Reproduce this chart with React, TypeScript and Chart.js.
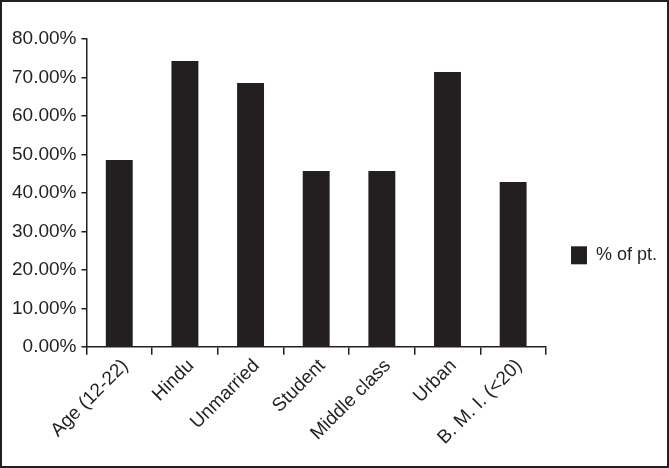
import React, { useEffect, useRef } from "react";
import { Chart, registerables } from "chart.js";

Chart.register(...registerables);

const categories = ["Age (12-22)", "Hindu", "Unmarried", "Student", "Middle class", "Urban", "B. M. I. (<20)"];
const seriesName = "% of pt.";
const values = [48.57, 74.29, 68.57, 45.71, 45.71, 71.43, 42.86];
const yTicks = [0, 10, 20, 30, 40, 50, 60, 70, 80];

const INK = "#231f20";
const FONT = "'Liberation Sans', Arial, sans-serif";

export default function App() {
  const ref = useRef<HTMLCanvasElement | null>(null);
  useEffect(() => {
    document.body.style.margin = "0";
    if (!ref.current) return;
    const chart = new Chart(ref.current, {
      type: "bar",
      data: {
        labels: categories,
        datasets: [
          {
            label: seriesName,
            data: values,
            backgroundColor: INK,
            borderWidth: 0,
            barPercentage: 0.41,
            categoryPercentage: 1,
          },
        ],
      },
      options: {
        animation: false,
        responsive: false,
        maintainAspectRatio: false,
        layout: { padding: { left: 5, top: 37, right: 0, bottom: 17 } },
        plugins: {
          tooltip: { enabled: false },
          legend: {
            position: "right",
            align: "center",
            title: { display: true, text: "", padding: { top: 1, bottom: 0 }, font: { size: 18, family: FONT } },
            labels: {
              boxWidth: 16,
              boxHeight: 18,
              padding: 25,
              color: INK,
              font: { size: 18, family: FONT },
            },
          },
        },
        scales: {
          x: {
            grid: {
              display: true,
              drawOnChartArea: false,
              drawTicks: true,
              tickLength: 8,
              color: INK,
              lineWidth: 1.5,
            },
            border: { display: true, color: INK, width: 1.5 },
            ticks: {
              color: INK,
              font: { size: 19, family: FONT },
              minRotation: 45,
              maxRotation: 45,
              autoSkip: false,
              padding: 0,
              labelOffset: 6,
            },
          },
          y: {
            min: 0,
            max: 80,
            afterBuildTicks: (axis: any) => {
              axis.ticks = yTicks.map((v) => ({ value: v }));
            },
            grid: {
              display: true,
              drawOnChartArea: false,
              drawTicks: true,
              tickLength: 5,
              color: INK,
              lineWidth: 1.5,
            },
            border: { display: true, color: INK, width: 1.5 },
            ticks: {
              color: INK,
              font: { size: 19, family: FONT },
              padding: 5,
              callback: (v: any) => Number(v).toFixed(2) + "%",
            },
          },
        },
      },
    });
    return () => chart.destroy();
  }, []);
  return (
    <div
      style={{
        position: "absolute",
        left: 0,
        top: 0,
        width: 669,
        height: 468,
        boxSizing: "border-box",
        border: `2px solid ${INK}`,
        background: "#fff",
      }}
    >
      <canvas ref={ref} width={665} height={464} style={{ display: "block" }} />
    </div>
  );
}
